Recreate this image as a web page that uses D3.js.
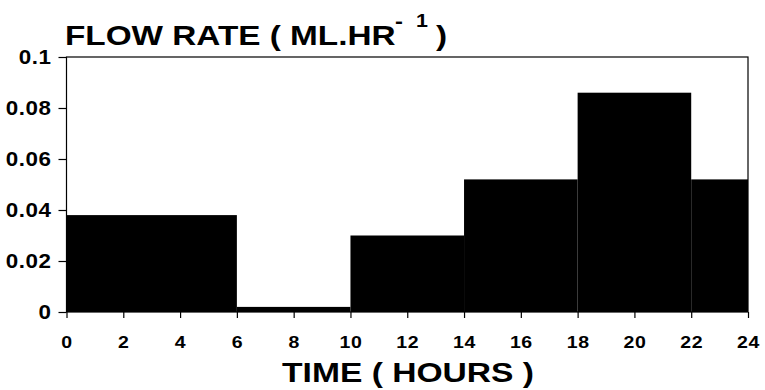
<!DOCTYPE html>
<html>
<head>
<meta charset="utf-8">
<script src="https://cdn.jsdelivr.net/npm/d3@7"></script>
<style>
  body { margin: 0; background: #fff; }
  text { font-family: "Liberation Sans", Arial, sans-serif; font-weight: bold; fill: #000; }
</style>
</head>
<body>
<script>
// time bins (hours) and flow rate values
var binStart = [0, 6, 10, 14, 18, 22];
var binEnd = [6, 10, 14, 18, 22, 24];
var flowRate = [0.038, 0.002, 0.030, 0.052, 0.086, 0.052];
var xTicks = [0, 2, 4, 6, 8, 10, 12, 14, 16, 18, 20, 22, 24];
var yTicks = [0, 0.02, 0.04, 0.06, 0.08, 0.1];
var yTickLabels = ["0", "0.02", "0.04", "0.06", "0.08", "0.1"];

var width = 765, height = 390;

var svg = d3.select("body").append("svg")
    .attr("width", width)
    .attr("height", height);

var x = d3.scaleLinear().domain([0, 24]).range([66.5, 748]);
var y = d3.scaleLinear().domain([0, 0.1]).range([312, 57]);

// bars
svg.selectAll(".bar")
    .data(flowRate)
    .enter()
    .append("rect")
    .attr("class", "bar")
    .attr("x", function(d, i) { return x(binStart[i]); })
    .attr("y", function(d) { return y(d); })
    .attr("width", function(d, i) { return x(binEnd[i]) - x(binStart[i]); })
    .attr("height", function(d) { return y(0) - y(d); })
    .attr("fill", "#000");

// frame
svg.append("rect")
    .attr("x", x(0))
    .attr("y", y(0.1))
    .attr("width", x(24) - x(0))
    .attr("height", y(0) - y(0.1))
    .attr("fill", "none")
    .attr("stroke", "#000")
    .attr("stroke-width", 1.2);

// x axis
var xAxis = svg.append("g")
    .attr("transform", "translate(0," + y(0) + ")")
    .call(d3.axisBottom(x).tickValues(xTicks).tickSize(6).tickPadding(19).tickFormat(d3.format("d")));
xAxis.select(".domain").remove();
xAxis.selectAll("line").attr("stroke", "#000").attr("stroke-width", 1.2);
xAxis.selectAll("text")
    .attr("transform", "scale(1.22,1)")
    .style("font-size", "16px")
    .style("letter-spacing", "0.5px")
    .style("font-family", "Liberation Sans, Arial, sans-serif");

// y axis
var yAxis = svg.append("g")
    .attr("transform", "translate(" + x(0) + ",0)")
    .call(d3.axisLeft(y).tickValues(yTicks).tickSize(8).tickPadding(7)
        .tickFormat(function(d, i) { return yTickLabels[i]; }));
yAxis.select(".domain").remove();
yAxis.selectAll("line").attr("stroke", "#000").attr("stroke-width", 1.2);
yAxis.selectAll("text")
    .attr("x", -15 / 1.12)
    .attr("transform", "scale(1.12,1)")
    .style("font-size", "20px")
    .style("letter-spacing", "0.5px")
    .style("font-family", "Liberation Sans, Arial, sans-serif");

// title
var title = svg.append("text")
    .attr("transform", "translate(65,45) scale(1.19,1)")
    .style("font-size", "28px");
title.append("tspan").attr("x", 0).text("FLOW RATE ( ML.HR");
title.append("tspan").attr("x", (395 - 65) / 1.19).attr("y", -17).style("font-size", "20px").text("-");
title.append("tspan").attr("x", (416 - 65) / 1.19).attr("y", -18).style("font-size", "18px").text("1");
title.append("tspan").attr("x", (436 - 65) / 1.19).attr("y", 0).text(")");

// x label
svg.append("text")
    .attr("transform", "translate(408,382) scale(1.2,1)")
    .style("text-anchor", "middle")
    .style("font-size", "28px")
    .text("TIME ( HOURS )");
</script>
</body>
</html>
